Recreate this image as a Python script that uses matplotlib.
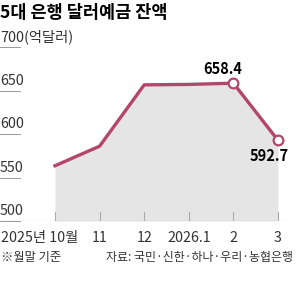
import matplotlib.pyplot as plt

plt.rcParams['font.family'] = ['Liberation Sans Narrow', 'Noto Sans CJK KR', 'DejaVu Sans']

# month-end balance of dollar deposits at the 5 big banks (100M USD)
months = ['2025년 10월', '11', '12', '2026.1', '2', '3']
balance = [563.5, 586.0, 656.5, 657.0, 658.4, 592.7]
yticks = [500, 550, 600, 650, 700]

line_color = '#b4466b'
fill_color = '#e5e5e5'
text_color = '#333333'

fig = plt.figure(figsize=(3.0, 2.93), dpi=100)
ax = fig.add_axes([0, 0.2457, 293 / 300, 0.5939])
ax.set_xlim(-1.233, 5.336)
ax.set_ylim(500, 700)
ax.axis('off')

x = list(range(len(months)))
ax.fill_between(x, balance, 500, color=fill_color, lw=0, zorder=1)
ax.plot(x, balance, color=line_color, lw=2.4, zorder=3, solid_joinstyle='round')

# white circle markers on the last two points
ax.plot(x[-2:], balance[-2:], 'o', ms=7, mfc='white', mec=line_color, mew=1.6, zorder=4)

# baseline and small ticks
ax.axhline(500, color='#999999', lw=0.8, zorder=2)
for i in x:
    ax.plot([i, i], [500, 510], color='#aaaaaa', lw=0.8, zorder=2)

# y labels with short underlines
for v in yticks:
    ax.plot([-1.233, -0.78], [v, v], color='#999999', lw=0.7, clip_on=False)
    lab = '700(억달러)' if v == 700 else str(v)
    ax.text(-1.233, v + 3, lab, fontsize=10.3, color=text_color, ha='left', va='bottom')

# x labels
for i, m in enumerate(months):
    if i == 0:
        ax.text(i + 0.53, 489, m, fontsize=10.3, color=text_color, ha='right', va='top')
    else:
        ax.text(i, 489, m, fontsize=10.3, color=text_color, ha='center', va='top')

# value labels
ax.text(4 - 0.25, 666, '658.4', fontsize=10.5, fontweight='bold', ha='center', va='bottom')
ax.text(5 - 0.2, 584, '592.7', fontsize=10.5, fontweight='bold', ha='center', va='top')

fig.text(0.0, 0.957, '5대 은행 달러예금 잔액', fontsize=12.6, fontweight='heavy',
         family=['Noto Sans CJK KR', 'DejaVu Sans'], ha='left', va='center')
fig.text(0.003, 0.12, '※월말 기준', fontsize=8.8, color=text_color, ha='left', va='center')
fig.text(0.977, 0.12, '자료: 국민·신한·하나·우리·농협은행', fontsize=8.6, color=text_color,
         ha='right', va='center')

fig.savefig('out.png', dpi=100)
